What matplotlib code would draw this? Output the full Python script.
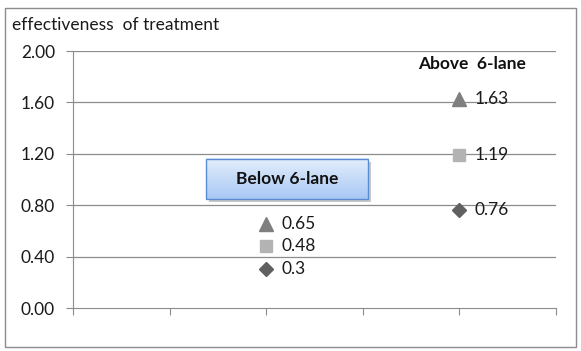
import numpy as np
import matplotlib.pyplot as plt
from matplotlib.patches import Rectangle
from matplotlib.colors import LinearSegmentedColormap

plt.rcParams['font.family'] = ['Lato', 'DejaVu Sans']

# category positions on the 0..5 x axis
groups = ["Below 6-lane", "Above  6-lane"]
group_x = [2, 4]
triangle_vals = [0.65, 1.63]
square_vals = [0.48, 1.19]
diamond_vals = [0.3, 0.76]
y_ticks = [0.0, 0.4, 0.8, 1.2, 1.6, 2.0]

FS = 12.5

fig = plt.figure(figsize=(5.81, 3.51), dpi=100)
ax = fig.add_axes([0.1256, 0.1225, 0.8314, 0.7322])

# outer chart border
fig.patches.append(Rectangle((0.009, 0.012), 0.982, 0.966, transform=fig.transFigure,
                             fill=False, edgecolor="#8c8c8c", linewidth=1.0))

for y in y_ticks[1:]:
    ax.axhline(y, color="#8c8c8c", linewidth=0.9, zorder=0)

series = [
    (triangle_vals, "^", "#7f7f7f", 9.5),
    (square_vals, "s", "#b3b3b3", 9),
    (diamond_vals, "D", "#606060", 7),
]
for vals, mk, col, ms in series:
    ax.plot(group_x, vals, linestyle="none", marker=mk, color=col, markersize=ms, zorder=3)
    for x, v in zip(group_x, vals):
        ax.annotate(f"{v:g}", (x, v), xytext=(11, 0), textcoords="offset points",
                    va="center", ha="left", fontsize=FS, color="#1a1a1a")

ax.set_xlim(0, 5)
ax.set_ylim(0, 2.0)
ax.set_xticks(range(6))
ax.set_xticklabels([])
ax.set_yticks(y_ticks)
ax.set_yticklabels([f"{t:.2f}" for t in y_ticks], fontsize=FS, color="#1a1a1a")
ax.tick_params(axis="x", direction="out", length=5, color="#8c8c8c")
ax.tick_params(axis="y", direction="out", length=5, color="#8c8c8c", pad=8)
for s in ["top", "right"]:
    ax.spines[s].set_visible(False)
for s in ["left", "bottom"]:
    ax.spines[s].set_color("#8c8c8c")

fig.text(0.02, 0.93, "effectiveness  of treatment", fontsize=FS, color="#1a1a1a", va="center")

# "Below 6-lane" box with a vertical blue gradient
bx0, bx1, by0, by1 = 1.377, 3.054, 0.848, 1.16
cmap = LinearSegmentedColormap.from_list("box", ["#e3eefc", "#a8c8f4"])
ax.add_patch(Rectangle((bx0 + 0.03, by0 - 0.025), bx1 - bx0, by1 - by0,
                       facecolor="#c8c8c8", edgecolor="none", zorder=4))
ax.imshow(np.linspace(0, 1, 50).reshape(-1, 1), cmap=cmap, aspect="auto",
          extent=(bx0, bx1, by0, by1), origin="upper", zorder=5)
ax.add_patch(Rectangle((bx0, by0), bx1 - bx0, by1 - by0, fill=False,
                       edgecolor="#5b8bd2", linewidth=1.0, zorder=6))
ax.text((bx0 + bx1) / 2, (by0 + by1) / 2, groups[0], ha="center", va="center",
        fontsize=FS, fontweight="bold", color="#111111", zorder=7)
ax.set_xlim(0, 5)
ax.set_ylim(0, 2.0)

ax.text(4.13, 1.90, groups[1], ha="center", va="center", fontsize=FS, fontweight="bold",
        color="#111111")

fig.savefig("out.png", dpi=100)
